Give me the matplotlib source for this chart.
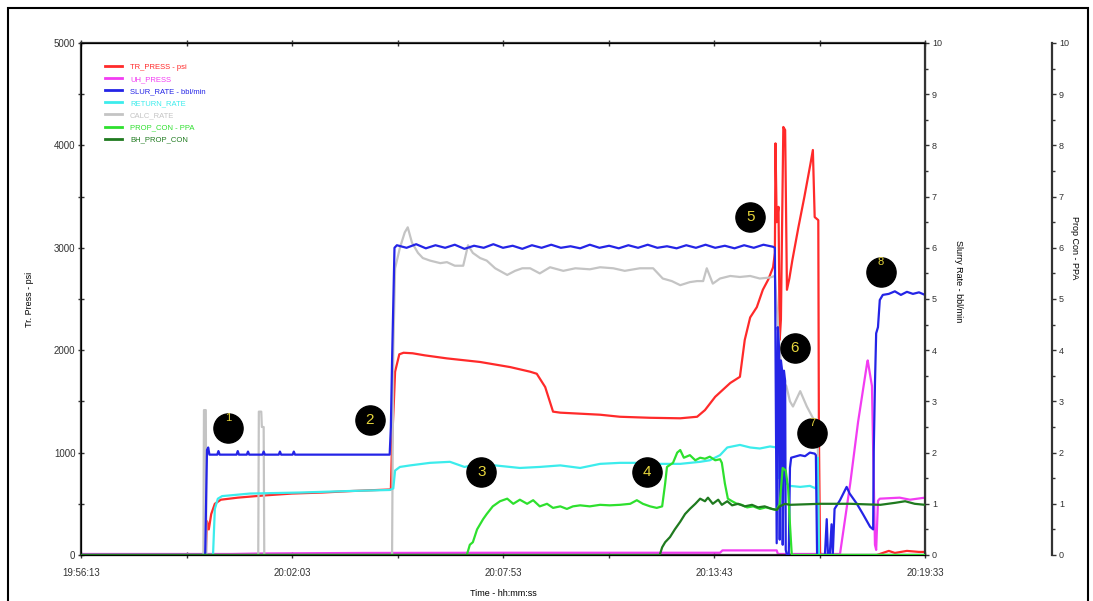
"""
usage:
python plot.py
description:
Treating plot of a frac stage: pressure, rates and proppant concentration
"""
import matplotlib.pyplot as plt
from matplotlib.lines import Line2D
from matplotlib.patches import Rectangle
from matplotlib.ticker import FuncFormatter, MultipleLocator

START_SEC = 19 * 3600 + 56 * 60 + 13
T_MAX = 1400

# seconds after 19:56:13
TR_PRESS_T = [0, 207, 209, 212, 216, 222, 232, 260, 300, 350, 400, 450, 514,
              516, 519, 521, 528, 535, 550, 570, 607, 662, 712, 745, 756, 770,
              783, 795, 828, 861, 894, 944, 994, 1022, 1035, 1052, 1077, 1093,
              1101, 1110, 1121, 1131, 1140, 1148, 1151, 1152, 1154, 1156, 1157,
              1159, 1161, 1165, 1168, 1171, 1175, 1180, 1190, 1200, 1210, 1214,
              1217, 1223, 1224, 1226, 1320, 1330, 1340, 1350, 1370, 1390, 1400]
TR_PRESS = [0, 0, 330, 250, 400, 500, 540, 560, 580, 600, 610, 625, 640,
            1100, 1500, 1790, 1960, 1975, 1970, 1950, 1920, 1885, 1835, 1790, 1770, 1640,
            1400, 1390, 1380, 1370, 1350, 1340, 1335, 1350, 1415, 1545, 1680, 1740,
            2100, 2320, 2420, 2590, 2690, 2810, 2950, 4020, 3250, 3350, 3400,
            2100, 2300, 4180, 4150, 2590, 2700, 2880, 3200, 3500, 3820, 3955,
            3300, 3270, 1200, 0, 0, 20, 40, 20, 40, 30, 30]

UH_PRESS_T = [0, 250, 300, 400, 470, 700, 1060, 1064, 1154, 1156, 1259, 1276,
              1289, 1304, 1305, 1312, 1317, 1319, 1322, 1325, 1358, 1375, 1400]
UH_PRESS = [10, 10, 15, 18, 20, 22, 22, 45, 45, 10, 10, 700,
            1300, 1875, 1900, 1650, 100, 50, 530, 550, 560, 540, 560]

SLUR_RATE_T = [0, 206, 207, 209, 211, 213, 226, 228, 230, 258, 260, 262, 275,
               277, 279, 301, 303, 305, 328, 330, 332, 351, 353, 355, 400, 450,
               512, 514, 516, 520, 524, 540, 556, 572, 588, 604, 620, 636, 652,
               668, 684, 700, 716, 732, 748, 764, 780, 796, 812, 828, 844, 860,
               876, 892, 908, 924, 940, 956, 972, 988, 1004, 1020, 1036, 1052,
               1068, 1084, 1100, 1116, 1132, 1148, 1151, 1154, 1156, 1158, 1159,
               1161, 1163, 1164, 1166, 1168, 1169, 1171, 1174, 1176, 1178, 1184,
               1193, 1201, 1209, 1217, 1219, 1221, 1234, 1237, 1239, 1242, 1245,
               1247, 1250, 1259, 1270, 1275, 1287, 1297, 1309, 1314, 1315, 1317,
               1319, 1322, 1325, 1330, 1340, 1350, 1360, 1370, 1380, 1390, 1400]
SLUR_RATE = [0, 0, 0.7, 2.05, 2.1, 1.96, 1.96, 2.03, 1.96, 1.96, 2.03, 1.96, 1.96,
             2.02, 1.96, 1.96, 2.02, 1.96, 1.96, 2.02, 1.96, 1.96, 2.02, 1.96, 1.96, 1.96,
             1.96, 2.5, 3.8, 6.0, 6.05, 6.0, 6.07, 5.99, 6.05, 6.0, 6.06, 5.98, 6.04,
             6.0, 6.07, 6.0, 6.04, 5.98, 6.05, 6.0, 6.06, 6.0, 6.03, 5.99, 6.06, 6.0,
             6.04, 5.99, 6.05, 6.0, 6.06, 6.0, 6.03, 5.99, 6.05, 6.0, 6.06, 6.0,
             6.04, 5.99, 6.05, 6.0, 6.06, 6.02, 6.0, 0.23, 4.45, 4.0, 0.3,
             3.8, 3.6, 0.2, 3.6, 3.4, 0.1, 0.0, 0.0, 1.7, 1.9, 1.92,
             1.95, 1.93, 2.0, 1.98, 1.95, 0.0, 0.0, 0.7, 0.0, 0.0, 0.6,
             0.0, 0.9, 1.07, 1.33, 1.2, 1.0, 0.8, 0.55, 0.5, 2.05, 3.35,
             4.33, 4.45, 4.98, 5.08, 5.1, 5.15, 5.08, 5.14, 5.1, 5.13, 5.08]

RETURN_RATE_T = [0, 219, 222, 227, 234, 280, 363, 446, 512, 518, 521, 529, 546,
                 579, 612, 636, 662, 695, 728, 761, 795, 828, 861, 894, 927, 960,
                 994, 1027, 1043, 1060, 1072, 1093, 1110, 1126, 1143, 1154, 1156,
                 1163, 1170, 1176, 1193, 1209, 1219, 1222, 1224, 1400]
RETURN_RATE = [0, 0, 0.9, 1.1, 1.15, 1.2, 1.22, 1.25, 1.27, 1.3, 1.65, 1.72, 1.75,
               1.8, 1.82, 1.72, 1.78, 1.74, 1.7, 1.72, 1.75, 1.7, 1.78, 1.8, 1.8, 1.78,
               1.78, 1.82, 1.85, 1.95, 2.1, 2.15, 2.1, 2.08, 2.12, 2.1, 1.5,
               1.6, 1.4, 1.35, 1.33, 1.35, 1.3, 1.9, 0.0, 0.0]

CALC_RATE_T = [0, 203, 204, 207, 208, 294, 295, 299, 300, 303, 304, 516, 518,
               521, 529, 537, 542, 549, 559, 567, 579, 596, 607, 620, 634, 642,
               650, 662, 673, 687, 707, 720, 732, 745, 761, 778, 800, 820, 844,
               861, 883, 902, 927, 949, 965, 980, 994, 1010, 1022, 1032, 1038,
               1048, 1060, 1077, 1093, 1110, 1126, 1143, 1151, 1156, 1163, 1170,
               1176, 1181, 1193, 1204, 1213, 1218, 1222, 1224, 1400]
CALC_RATE = [0, 0, 2.83, 2.83, 0, 0, 2.8, 2.8, 2.5, 2.5, 0, 0, 4.0,
             5.6, 6.0, 6.3, 6.4, 6.1, 5.9, 5.8, 5.75, 5.7, 5.72, 5.65, 5.65, 6.05,
             5.9, 5.8, 5.75, 5.6, 5.47, 5.55, 5.6, 5.6, 5.5, 5.62, 5.55, 5.6, 5.58,
             5.62, 5.6, 5.55, 5.6, 5.6, 5.4, 5.35, 5.27, 5.33, 5.35, 5.35, 5.6,
             5.3, 5.4, 5.45, 5.43, 5.45, 5.4, 5.42, 5.45, 4.5, 3.4, 3.3,
             3.0, 2.9, 3.2, 2.9, 2.7, 2.6, 2.4, 0.0, 0.0]

PROP_CON_T = [0, 640, 645, 650, 657, 667, 673, 683, 695, 707, 717, 728, 740,
              750, 761, 773, 783, 795, 806, 816, 828, 844, 861, 877, 894, 911,
              922, 932, 944, 955, 964, 969, 972, 982, 989, 994, 1000, 1010, 1019,
              1027, 1035, 1043, 1052, 1060, 1063, 1068, 1073, 1080, 1088, 1096,
              1105, 1115, 1126, 1136, 1146, 1154, 1159, 1164, 1169, 1173, 1176,
              1179, 1400]
PROP_CON = [0, 0, 0.2, 0.25, 0.5, 0.7, 0.8, 0.95, 1.05, 1.1, 1.0, 1.08, 1.0,
            1.07, 0.95, 1.0, 0.92, 0.95, 0.9, 0.95, 0.97, 0.95, 0.98, 0.97, 0.98, 1.0,
            1.07, 1.0, 0.95, 0.92, 0.95, 1.4, 1.72, 1.8, 2.0, 2.05, 1.9, 1.95, 1.85,
            1.9, 1.88, 1.92, 1.85, 1.87, 1.8, 1.4, 1.1, 1.05, 1.0, 0.98,
            0.93, 0.95, 0.9, 0.93, 0.9, 0.88, 1.0, 1.7, 1.65, 1.3, 0.6,
            0.0, 0.0]

BH_PROP_CON_T = [0, 960, 964, 969, 977, 985, 994, 1002, 1010, 1019, 1027, 1035,
                 1040, 1048, 1057, 1063, 1072, 1080, 1090, 1101, 1113, 1123, 1134,
                 1146, 1154, 1159, 1168, 1176, 1226, 1276, 1326, 1351, 1367, 1383,
                 1400]
BH_PROP_CON = [0, 0, 0.15, 0.25, 0.35, 0.5, 0.65, 0.8, 0.9, 1.0, 1.1, 1.05,
               1.12, 1.0, 1.08, 0.98, 1.05, 0.97, 1.0, 0.95, 0.98, 0.93, 0.95,
               0.9, 0.88, 0.95, 1.0, 0.98, 1.0, 1.0, 0.98, 1.02, 1.05, 1.0,
               0.98]

# event markers: label, time, slurry-rate level
EVENT_LABELS = ["1", "2", "3", "4", "5", "6", "7", "8"]
EVENT_T = [244, 479, 664, 939, 1110, 1184, 1213, 1327]
EVENT_Y = [2.48, 2.64, 1.62, 1.62, 6.6, 4.04, 2.38, 5.53]

SERIES_NAMES = ["TR_PRESS - psi", "UH_PRESS", "SLUR_RATE - bbl/min",
                "RETURN_RATE", "CALC_RATE", "PROP_CON - PPA", "BH_PROP_CON"]
SERIES_COLORS = ["#ff2a2a", "#f23cf2", "#2424e6", "#3cecec", "#c4c4c4",
                 "#2ee02e", "#1f7a1f"]

SPINE_COLOR = "#333333"
FONT = "Liberation Sans"


def format_time(value, _position):
    """Turn seconds after the start into hh:mm:ss"""
    total = int(round(START_SEC + value))
    return f"{total // 3600:02d}:{total % 3600 // 60:02d}:{total % 60:02d}"


def style_axis(axes, side):
    """Common tick styling for a value axis"""
    axes.tick_params(axis="y", which="major", length=3, width=1,
                     labelsize=6.5, colors=SPINE_COLOR, direction="out", pad=2)
    axes.tick_params(axis="y", which="minor", length=2, width=1,
                     colors=SPINE_COLOR, direction="out")
    axes.spines[side].set_color(SPINE_COLOR)
    axes.spines[side].set_linewidth(1.6)


def main():
    """Build the figure and save it"""
    plt.rcParams["font.family"] = [FONT, "DejaVu Sans"]

    fig = plt.figure(figsize=(10.93, 6.01), dpi=100)
    axes = fig.add_axes([81 / 1093, 1 - 555 / 601, 844 / 1093, 512 / 601])
    rate_axes = axes.twinx()
    prop_axes = axes.twinx()

    # left: pressure
    axes.set_xlim(0, T_MAX)
    axes.set_ylim(0, 5000)
    axes.yaxis.set_major_locator(MultipleLocator(1000))
    axes.yaxis.set_minor_locator(MultipleLocator(500))
    axes.xaxis.set_major_locator(MultipleLocator(350))
    axes.xaxis.set_minor_locator(MultipleLocator(175))
    axes.xaxis.set_major_formatter(FuncFormatter(format_time))
    axes.tick_params(axis="x", which="both", direction="inout", length=4,
                     width=1, labelsize=7, colors=SPINE_COLOR, pad=7,
                     top=True)
    style_axis(axes, "left")
    axes.tick_params(axis="y", which="both", direction="inout", length=4,
                     labelsize=7)
    for side in ["top", "bottom"]:
        axes.spines[side].set_color(SPINE_COLOR)
        axes.spines[side].set_linewidth(1.6)
    axes.set_ylabel("Tr. Press - psi", fontsize=6.5, labelpad=14)
    axes.set_xlabel("Time - hh:mm:ss", fontsize=6.5, labelpad=8)

    # right: slurry rate
    rate_axes.set_ylim(0, 10)
    rate_axes.yaxis.set_major_locator(MultipleLocator(1))
    rate_axes.yaxis.set_minor_locator(MultipleLocator(0.5))
    style_axis(rate_axes, "right")
    rate_axes.set_ylabel("Slurry Rate - bbl/min", fontsize=6.5, rotation=270,
                         labelpad=18)
    rate_axes.yaxis.set_label_coords(1.045, 0.535)

    # far right: proppant concentration
    prop_axes.set_ylim(0, 10)
    prop_axes.spines["right"].set_position(("axes", (1052 - 81) / 844))
    prop_axes.yaxis.set_major_locator(MultipleLocator(1))
    prop_axes.yaxis.set_minor_locator(MultipleLocator(0.5))
    style_axis(prop_axes, "right")
    for side in ["left", "top", "bottom"]:
        prop_axes.spines[side].set_visible(False)
    prop_axes.set_ylabel("Prop Con - PPA", fontsize=6.5, rotation=270,
                         labelpad=14)
    prop_axes.yaxis.set_label_coords(1.183, 0.6)

    line_width = 1.6
    axes.plot(UH_PRESS_T, UH_PRESS, color=SERIES_COLORS[1], lw=line_width)
    axes.plot(TR_PRESS_T, TR_PRESS, color=SERIES_COLORS[0], lw=line_width)
    rate_axes.plot(CALC_RATE_T, CALC_RATE, color=SERIES_COLORS[4], lw=line_width)
    rate_axes.plot(RETURN_RATE_T, RETURN_RATE, color=SERIES_COLORS[3],
                   lw=line_width)
    rate_axes.plot(SLUR_RATE_T, SLUR_RATE, color=SERIES_COLORS[2], lw=line_width)
    prop_axes.plot(PROP_CON_T, PROP_CON, color=SERIES_COLORS[5], lw=line_width)
    prop_axes.plot(BH_PROP_CON_T, BH_PROP_CON, color=SERIES_COLORS[6],
                   lw=line_width)

    # numbered event markers
    for label, t_val, y_val in zip(EVENT_LABELS, EVENT_T, EVENT_Y):
        prop_axes.plot(t_val, y_val, "o", ms=21, color="black", zorder=5,
                       clip_on=False)
        small = label in ("1", "7", "8")
        prop_axes.annotate(label, (t_val, y_val),
                           xytext=(0, 7 if small else 0),
                           textcoords="offset points", ha="center",
                           va="center", color="#e6d53c",
                           fontsize=8 if small else 11, zorder=6)

    handles = [Line2D([], [], color=color, lw=2) for color in SERIES_COLORS]
    prop_axes.legend(handles, SERIES_NAMES, loc="upper left",
                     bbox_to_anchor=(0.029, 0.960), frameon=False,
                     fontsize=5.5, labelcolor=SERIES_COLORS,
                     handlelength=2.2, handletextpad=1.0, labelspacing=0.62,
                     borderpad=0, borderaxespad=0)

    # outer frame of the screenshot
    fig.add_artist(Rectangle((8 / 1093, -0.05), 1080 / 1093, 1.05 - 8 / 601,
                             transform=fig.transFigure, fill=False,
                             edgecolor="black", lw=1.5))

    fig.savefig("out.png", dpi=100)


if __name__ == "__main__":
    main()
